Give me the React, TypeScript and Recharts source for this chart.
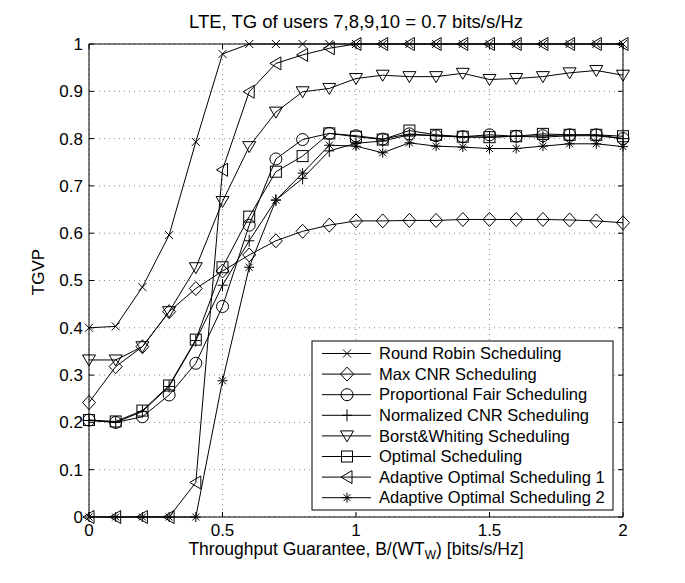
import { LineChart, Line, XAxis, YAxis, CartesianGrid, ReferenceLine } from 'recharts';

const X_VALUES = [0, 0.1, 0.2, 0.3, 0.4, 0.5, 0.6, 0.7, 0.8, 0.9, 1.0, 1.1, 1.2, 1.3, 1.4, 1.5, 1.6, 1.7, 1.8, 1.9, 2.0];
const X_TICKS = [0, 0.5, 1, 1.5, 2];
const Y_TICKS = [0, 0.1, 0.2, 0.3, 0.4, 0.5, 0.6, 0.7, 0.8, 0.9, 1];

const ROUND_ROBIN = [0.4, 0.403, 0.486, 0.596, 0.793, 0.979, 1, 1, 1, 1, 1, 1, 1, 1, 1, 1, 1, 1, 1, 1, 1];
const MAX_CNR = [0.242, 0.318, 0.36, 0.434, 0.483, 0.52, 0.554, 0.584, 0.604, 0.617, 0.626, 0.626, 0.627, 0.627, 0.629, 0.629, 0.629, 0.629, 0.628, 0.626, 0.622];
const PROP_FAIR = [0.205, 0.2, 0.212, 0.258, 0.325, 0.445, 0.617, 0.757, 0.798, 0.811, 0.806, 0.799, 0.81, 0.806, 0.804, 0.808, 0.805, 0.806, 0.808, 0.808, 0.8];
const NORM_CNR = [0.204, 0.2, 0.223, 0.276, 0.373, 0.49, 0.584, 0.67, 0.716, 0.774, 0.79, 0.795, 0.808, 0.806, 0.803, 0.803, 0.805, 0.803, 0.806, 0.806, 0.8];
const BORST = [0.332, 0.332, 0.36, 0.434, 0.527, 0.667, 0.783, 0.856, 0.899, 0.906, 0.927, 0.934, 0.931, 0.931, 0.938, 0.925, 0.927, 0.931, 0.939, 0.944, 0.934];
const OPTIMAL = [0.205, 0.202, 0.225, 0.278, 0.375, 0.528, 0.635, 0.73, 0.763, 0.811, 0.804, 0.798, 0.817, 0.808, 0.804, 0.803, 0.805, 0.81, 0.808, 0.808, 0.805];
const ADAPTIVE_1 = [0, 0, 0, 0, 0.073, 0.734, 0.899, 0.959, 0.977, 0.991, 1, 1, 1, 1, 1, 1, 1, 1, 1, 1, 1];
const ADAPTIVE_2 = [0, 0, 0, 0, 0, 0.288, 0.528, 0.67, 0.727, 0.786, 0.784, 0.77, 0.791, 0.784, 0.782, 0.779, 0.779, 0.784, 0.789, 0.789, 0.783];

const SERIES = [
  { key: 'rr', name: 'Round Robin Scheduling', marker: 'x', values: ROUND_ROBIN },
  { key: 'maxcnr', name: 'Max CNR Scheduling', marker: 'diamond', values: MAX_CNR },
  { key: 'pf', name: 'Proportional Fair Scheduling', marker: 'circle', values: PROP_FAIR },
  { key: 'ncnr', name: 'Normalized CNR Scheduling', marker: 'plus', values: NORM_CNR },
  { key: 'bw', name: 'Borst&Whiting Scheduling', marker: 'tridown', values: BORST },
  { key: 'opt', name: 'Optimal Scheduling', marker: 'square', values: OPTIMAL },
  { key: 'ao1', name: 'Adaptive Optimal Scheduling 1', marker: 'trileft', values: ADAPTIVE_1 },
  { key: 'ao2', name: 'Adaptive Optimal Scheduling 2', marker: 'star', values: ADAPTIVE_2 },
];

const rows = X_VALUES.map((x, i) => {
  const row: Record<string, number> = { x };
  SERIES.forEach((s) => {
    row[s.key] = s.values[i];
  });
  return row;
});

const W = 685;
const H = 583;
const LEFT = 89;
const RIGHT = 623;
const TOP = 44;
const BOTTOM = 517;
const FONT = '"Liberation Sans", Arial, Helvetica, sans-serif';

const Marker = ({ type, cx, cy }: { type: string; cx: number; cy: number }) => {
  const st = { fill: 'none', stroke: '#000', strokeWidth: 1 };
  switch (type) {
    case 'x':
      return <path d={`M${cx - 4},${cy - 4}L${cx + 4},${cy + 4}M${cx - 4},${cy + 4}L${cx + 4},${cy - 4}`} {...st} />;
    case 'diamond':
      return <path d={`M${cx},${cy - 7}L${cx + 6.5},${cy}L${cx},${cy + 7}L${cx - 6.5},${cy}Z`} {...st} />;
    case 'circle':
      return <circle cx={cx} cy={cy} r={6} {...st} />;
    case 'plus':
      return <path d={`M${cx - 5},${cy}L${cx + 5},${cy}M${cx},${cy - 6}L${cx},${cy + 6}`} {...st} />;
    case 'tridown':
      return <path d={`M${cx - 6.5},${cy - 5}L${cx + 6.5},${cy - 5}L${cx},${cy + 6}Z`} {...st} />;
    case 'square':
      return <rect x={cx - 5.5} y={cy - 5.5} width={11} height={11} {...st} />;
    case 'trileft':
      return <path d={`M${cx + 5},${cy - 6.5}L${cx + 5},${cy + 6.5}L${cx - 6},${cy}Z`} {...st} />;
    case 'star':
      return (
        <path
          d={`M${cx - 5},${cy}L${cx + 5},${cy}M${cx},${cy - 5}L${cx},${cy + 5}M${cx - 3.5},${cy - 3.5}L${cx + 3.5},${cy + 3.5}M${cx - 3.5},${cy + 3.5}L${cx + 3.5},${cy - 3.5}`}
          {...st}
        />
      );
    default:
      return null;
  }
};

// matlab style ticks: labels outside, tick marks inside on both sides
const YTick = (props: any) => {
  const { y, payload } = props;
  return (
    <g>
      <line x1={LEFT} x2={LEFT + 5} y1={y} y2={y} stroke="#000" />
      <line x1={RIGHT - 5} x2={RIGHT} y1={y} y2={y} stroke="#000" />
      <text x={LEFT - 6} y={y} dy="0.35em" textAnchor="end" fontSize={17} fontFamily={FONT} fill="#000">
        {payload.value}
      </text>
    </g>
  );
};

const XTick = (props: any) => {
  const { x, payload } = props;
  return (
    <g>
      <line x1={x} x2={x} y1={BOTTOM} y2={BOTTOM - 5} stroke="#000" />
      <line x1={x} x2={x} y1={TOP} y2={TOP + 5} stroke="#000" />
      <text x={x} y={BOTTOM + 7} dy="0.71em" textAnchor="middle" fontSize={17} fontFamily={FONT} fill="#000">
        {payload.value}
      </text>
    </g>
  );
};

const LEG_X = 312;
const LEG_Y = 341;
const LEG_W = 301;
const LEG_ROW = 20.6;

const App = () => {
  return (
    <div style={{ position: 'absolute', left: 0, top: 0, width: W, height: H, background: '#fff' }}>
      <LineChart width={W} height={H} data={rows} margin={{ top: TOP, right: W - RIGHT, bottom: 36, left: 0 }}>
        <CartesianGrid stroke="#888" strokeDasharray="1 4" />
        <XAxis
          dataKey="x"
          type="number"
          domain={[0, 2]}
          ticks={X_TICKS}
          height={30}
          axisLine={{ stroke: '#000' }}
          tickLine={false}
          tick={<XTick />}
        />
        <YAxis
          type="number"
          domain={[0, 1]}
          ticks={Y_TICKS}
          width={LEFT}
          axisLine={{ stroke: '#000' }}
          tickLine={false}
          tick={<YTick />}
        />
        <ReferenceLine y={1} stroke="#000" />
        <ReferenceLine x={2} stroke="#000" />
        {SERIES.map((s) => (
          <Line
            key={s.key}
            dataKey={s.key}
            name={s.name}
            type="linear"
            stroke="#000"
            strokeWidth={1}
            isAnimationActive={false}
            activeDot={false}
            dot={(p: any) => (
              <g key={`${s.key}-${p.index}`}>
                <Marker type={s.marker} cx={p.cx} cy={p.cy} />
              </g>
            )}
          />
        ))}
      </LineChart>
      <svg width={W} height={H} style={{ position: 'absolute', left: 0, top: 0, pointerEvents: 'none' }}>
        <text x={(LEFT + RIGHT) / 2} y={28} textAnchor="middle" fontSize={18.5} fontFamily={FONT}>
          LTE, TG of users 7,8,9,10 = 0.7 bits/s/Hz
        </text>
        <text x={(LEFT + RIGHT) / 2} y={555} textAnchor="middle" fontSize={17.5} fontFamily={FONT}>
          Throughput Guarantee, B/(WT
          <tspan fontSize={12} dy={4}>W</tspan>
          <tspan dy={-4}>) [bits/s/Hz]</tspan>
        </text>
        <text x={44} y={272} textAnchor="middle" fontSize={17} fontFamily={FONT} transform="rotate(-90 44 272)">
          TGVP
        </text>
        <rect x={LEG_X} y={LEG_Y} width={LEG_W} height={169} fill="#fff" stroke="#000" />
        {SERIES.map((s, i) => {
          const cy = LEG_Y + 12.5 + i * LEG_ROW;
          return (
            <g key={s.key}>
              <line x1={322} x2={371} y1={cy} y2={cy} stroke="#000" />
              <Marker type={s.marker} cx={347} cy={cy} />
              <text x={379} y={cy} dy="0.35em" fontSize={16.5} fontFamily={FONT}>
                {s.name}
              </text>
            </g>
          );
        })}
      </svg>
    </div>
  );
};

export default App;
